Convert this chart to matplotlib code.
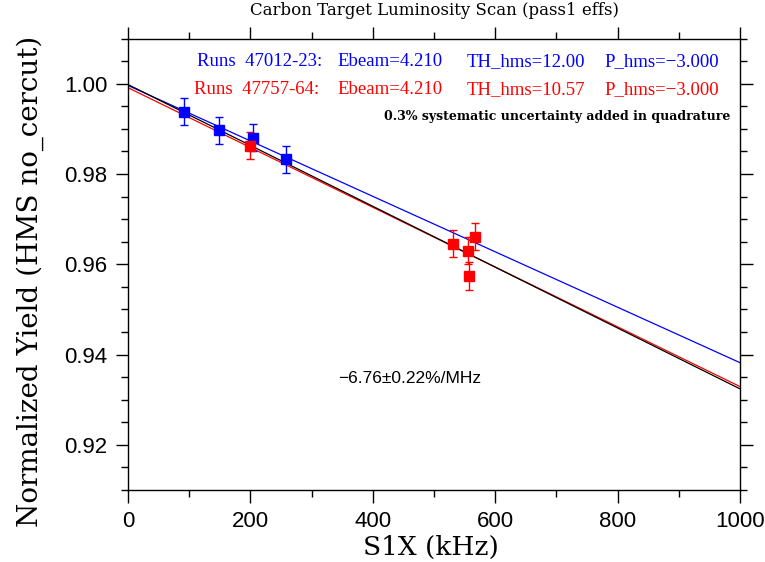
import numpy as np
import matplotlib
matplotlib.use("Agg")
import matplotlib.pyplot as plt
from matplotlib.ticker import MultipleLocator

# data
blue_x = [91, 149, 205, 258]
blue_y = [0.9938, 0.9897, 0.9880, 0.9833]
blue_err = [0.0030, 0.0030, 0.0030, 0.0030]

red_x = [199, 531, 555, 557, 567]
red_y = [0.9863, 0.9645, 0.9630, 0.9574, 0.9661]
red_err = [0.0030, 0.0030, 0.0030, 0.0030, 0.0030]

# straight line fits: (yield at 0 kHz, yield at 1000 kHz)
blue_fit = [0.9996, 0.9382]
red_fit = [0.9991, 0.9329]
all_fit = [0.9998, 0.9324]
fit_x = [0, 1000]

dserif = "DejaVu Serif"
serif = "Liberation Serif"
sans = "Liberation Sans"

fig = plt.figure(figsize=(7.65, 5.62), dpi=100)
ax = fig.add_axes([128/765, 1-490/562, 612/765, 451.5/562])

ax.plot(fit_x, blue_fit, color="blue", lw=0.9)
ax.plot(fit_x, red_fit, color="red", lw=0.9)
ax.plot(fit_x, all_fit, color="black", lw=0.9)

ax.errorbar(blue_x, blue_y, yerr=blue_err, fmt="s", color="blue", ms=6.5,
            capsize=3, elinewidth=1, capthick=1)
ax.errorbar(red_x, red_y, yerr=red_err, fmt="s", color="red", ms=6.5,
            capsize=3, elinewidth=1, capthick=1)

ax.set_xlim(0, 1000)
ax.set_ylim(0.91, 1.01)
ax.xaxis.set_major_locator(MultipleLocator(200))
ax.xaxis.set_minor_locator(MultipleLocator(100))
ax.yaxis.set_major_locator(MultipleLocator(0.02))
ax.yaxis.set_minor_locator(MultipleLocator(0.005))
ax.yaxis.set_major_formatter(plt.FormatStrFormatter("%.2f"))
ax.tick_params(which="both", direction="out", top=True, right=True,
               labeltop=False, labelright=False, width=1)
ax.tick_params(which="major", length=9, labelsize=16, pad=6)
ax.tick_params(which="minor", length=5)
for lab in ax.get_xticklabels() + ax.get_yticklabels():
    lab.set_fontfamily(sans)
for s in ax.spines.values():
    s.set_linewidth(1)

# header texts
fs = 13.5
ax.text(0.112, 0.949, "Runs  47012-23:", color="blue", fontsize=fs,
        family=serif, transform=ax.transAxes, va="center")
ax.text(0.108, 0.886, "Runs  47757-64:", color="red", fontsize=fs,
        family=serif, transform=ax.transAxes, va="center")
for y, c, th in [(0.949, "blue", "12.00"), (0.886, "red", "10.57")]:
    ax.text(0.343, y, "Ebeam=4.210", color=c, fontsize=fs, family=serif,
            transform=ax.transAxes, va="center")
    ax.text(0.553, y, "TH_hms=" + th, color=c, fontsize=fs, family=serif,
            transform=ax.transAxes, va="center")
    ax.text(0.779, y, "P_hms=\u22123.000", color=c, fontsize=fs,
            family=serif, transform=ax.transAxes, va="center")
ax.text(0.985, 0.827, "0.3% systematic uncertainty added in quadrature",
        fontsize=9, family=dserif, weight="bold",
        transform=ax.transAxes, ha="right", va="center")
ax.text(0.343, 0.248, "\u22126.76\u00b10.22%/MHz", fontsize=12.5, family=sans,
        transform=ax.transAxes, va="center")

fig.text(0.568, 0.982, "Carbon Target Luminosity Scan (pass1 effs)",
         fontsize=12, family=dserif, ha="center", va="center")
fig.text(0.563, 0.026, "S1X (kHz)", fontsize=19, family=dserif,
         ha="center", va="center")
fig.text(0.039, 0.5, "Normalized Yield (HMS no_cercut)", fontsize=20,
         family=dserif, rotation=90, ha="center", va="center")

fig.savefig("out.png", dpi=100)
